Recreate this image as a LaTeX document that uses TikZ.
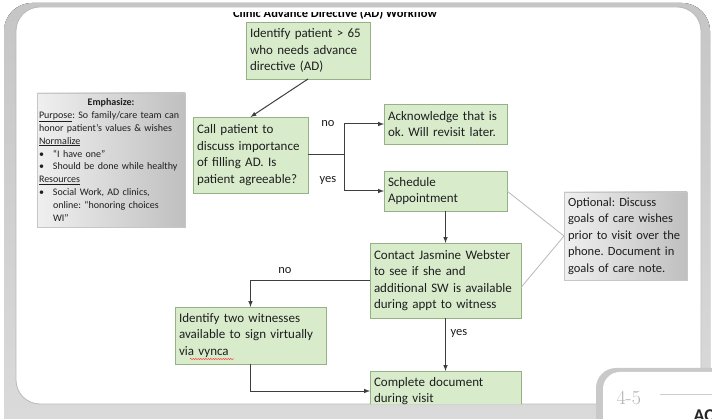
\documentclass[tikz,border=0pt]{standalone}
\usepackage{fontspec}
\setmainfont{Carlito}
\usepackage{tikz}
\usetikzlibrary{calc}
\usetikzlibrary{decorations.pathmorphing}
\tikzset{>=latex}
\frenchspacing

\definecolor{boxfill}{RGB}{216,236,204}
\definecolor{boxedge}{RGB}{150,178,132}
\definecolor{linedark}{RGB}{62,62,62}
\definecolor{textdark}{RGB}{30,30,30}

\newcommand{\emphbullet}{\makebox[14pt][l]{•}}

\tikzset{
  flowbox/.style={draw=boxedge, fill=boxfill, line width=0.7pt, anchor=north west, align=left,
    inner xsep=4pt, inner ysep=2pt, outer sep=0pt, text=textdark,
    font=\fontsize{13}{16.5}\selectfont},
  notebox/.style={draw=gray!45, line width=0.6pt, left color=gray!12, right color=gray!50,
    anchor=north west, align=left, inner xsep=4pt, inner ysep=2pt, outer sep=0pt, text=textdark},
  flowline/.style={draw=linedark, line width=1pt},
  notelink/.style={draw=gray!55, line width=0.8pt},
  flowlabel/.style={text=textdark, font=\fontsize{12.5}{14}\selectfont}
}

\begin{document}
\begin{tikzpicture}[x=1pt, y=-1pt]
    \useasboundingbox (0,0) rectangle (712,419);
    \clip (0,0) rectangle (712,419);
    \fill[white] (0,0) rectangle (712,419);
    \fill[top color=gray!45, bottom color=gray!28, rounded corners=28pt] (4,3) rectangle (710,445);
    \fill[white, rounded corners=24pt] (16,7) rectangle (701,404);
    \draw[gray!55, line width=0.8pt, rounded corners=24pt] (16,7) rectangle (701,404);

    \begin{scope}
    \clip[rounded corners=24pt] (16,7) rectangle (701,404);
    \begin{scope}
        \clip (0,12.5) rectangle (712,30);
        \node[anchor=base, text=black, font=\fontsize{12.5}{14}\selectfont\bfseries] (title) at (335,17.5) {Clinic Advance Directive (AD) Workflow};
    \end{scope}

    \node[flowbox, text width=116pt, minimum height=57pt] (identify) at (246,22) {Identify patient > 65\\who needs advance\\directive (AD)};
    \node[flowbox, text width=107pt, minimum height=76pt] (callpt) at (193,117) {Call patient to\\discuss importance\\of filling AD. Is\\patient agreeable?};
    \node[flowbox, text width=115pt, minimum height=40pt] (acknowledge) at (384,104) {Acknowledge that is\\ok. Will revisit later.};
    \node[flowbox, text width=115pt, minimum height=40pt] (schedule) at (384,171) {Schedule\\Appointment};
    \node[flowbox, text width=143pt, minimum height=75pt] (contact) at (370,243) {Contact Jasmine Webster\\to see if she and\\additional SW is available\\during appt to witness};
    \node[flowbox, text width=143pt, minimum height=57pt] (witness) at (175,307) {Identify two witnesses\\available to sign virtually\\via vynca};
    \node[flowbox, text width=143pt, minimum height=40pt] (complete) at (370,371) {Complete document\\during visit};

    \node[notebox, inner xsep=2pt, text width=144pt, minimum height=134pt, font=\fontsize{10}{12.9}\selectfont] (emphasize) at (37,93) {\makebox[\linewidth][c]{\textbf{Emphasize:}}\\
\underline{Purpose}: So family/care team can\\
honor patient’s values \& wishes\\
\underline{Normalize}\\
\emphbullet“I have one”\\
\emphbullet Should be done while healthy\\
\underline{Resources}\\
\emphbullet Social Work, AD clinics,\\
\hspace*{14pt}online: “honoring choices\\
\hspace*{14pt}WI”};
    \node[notebox, text width=115pt, minimum height=88pt, font=\fontsize{12.5}{16.5}\selectfont] (optional) at (564,192) {Optional: Discuss\\goals of care wishes\\prior to visit over the\\phone. Document in\\goals of care note.};

    \coordinate (split) at (344,155);
    \draw[flowline,->] (identify.south) -- (callpt.north);
    \draw[flowline] (callpt.east) -- (split);
    \draw[flowline,->] (split) |- (acknowledge.west);
    \draw[flowline,->] (split) |- (schedule.west);
    \node[flowlabel] (nolabel) at (328,124) {no};
    \node[flowlabel] (yeslabel) at (328,180) {yes};

    \draw[flowline,->] (schedule.south) -- (contact.north);
    \draw[flowline,->] (contact.west) -| (witness.north);
    \node[flowlabel] (nolower) at (285,271) {no};
    \draw[flowline,->] (contact.south) -- (complete.north);
    \node[flowlabel] (yeslower) at (459,333) {yes};
    \draw[flowline,->] (witness.south) |- (complete.west);

    \draw[notelink] (schedule.east) -- (optional.west);
    \draw[notelink] ($(contact.east)+(0,7)$) -- (optional.west);

    \draw[red!80, line width=0.5pt, decorate, decoration={snake, amplitude=0.6pt, segment length=2.5pt}] (190,359) -- (234,359);
    \end{scope}

    \fill[gray!42, rounded corners=20pt] (596,368) rectangle (770,480);
    \fill[white, rounded corners=17pt] (603,372) rectangle (770,480);
    \node[anchor=base west, text=gray!60, font=\fontfamily{lmr}\fontsize{20}{22}\selectfont] (slidenum) at (613,404) {4-5};
    \draw[gray!40, line width=0.6pt] (660,394) -- (712,394);
    \node[anchor=base west, text=black!85, font=\fontsize{18}{20}\selectfont\bfseries] (nexttitle) at (690,421) {AC};
\end{tikzpicture}
\end{document}
